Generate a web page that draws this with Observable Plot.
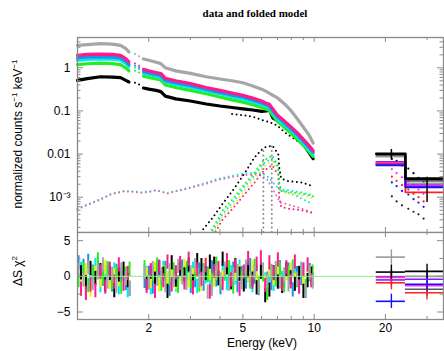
<!DOCTYPE html>
<html><head><meta charset="utf-8">
<script src="https://cdn.jsdelivr.net/npm/d3@7"></script>
<script src="https://cdn.jsdelivr.net/npm/@observablehq/plot@0.6"></script>
<style>
body{margin:0;background:#fff;}
#wrap{position:relative;width:444px;height:351px;overflow:hidden;font-family:"Liberation Sans",Arial,sans-serif;color:#000;}
#title{position:absolute;left:0;width:510px;top:7px;text-align:center;font:bold 11px "Liberation Serif","Times New Roman",serif;}
.rot{position:absolute;width:220px;height:14px;line-height:14px;text-align:center;font-size:12px;transform:rotate(-90deg);white-space:nowrap;}
.rot sup{font-size:8px;vertical-align:5px;line-height:0;}
#xl{position:absolute;left:162px;width:200px;top:336px;height:14px;line-height:14px;text-align:center;font-size:12px;}
#top{position:absolute;left:0;top:0;}
#bot{position:absolute;left:0;top:231px;}
</style></head>
<body>
<div id="wrap">
  <div id="title">data and folded model</div>
  <div id="top"></div>
  <div id="bot"></div>
  <div class="rot" style="left:-92px;top:127px;">normalized counts s<sup>−1</sup> keV<sup>−1</sup></div>
  <div class="rot" style="left:-92px;top:264px;">ΔS χ<sup>2</sup></div>
  <div id="xl">Energy (keV)</div>
</div>
<script>
// ---------- low-energy spectra (keV, counts/s/keV); null = gap ----------
const loE = [1.0, 1.1, 1.25, 1.4, 1.52, 1.6, 1.65, null,
  1.9, 2.0, 2.15, 2.25, 2.35, 2.6, 3.0, 3.5, 4.0, 4.5, 5.0, 5.5, 6.0, 6.3, 6.45, 6.7, 7.0, 7.5, 8.0, 8.5, 9.0, 9.5, 9.9];
const grayLo  = [3.3, 3.45, 3.65, 3.55, 3.3, 2.8, 2.35, null,
  1.6, 1.5, 1.35, 1.25, 1.0, 0.85, 0.74, 0.62, 0.55, 0.5, 0.45, 0.38, 0.32, 0.28, 0.26, 0.23, 0.2, 0.145, 0.1, 0.065, 0.042, 0.028, 0.018];
const pinkLo  = [1.95, 2.05, 2.08, 2.05, 1.95, 1.64, 1.38, null,
  0.92, 0.85, 0.78, 0.74, 0.57, 0.5, 0.43, 0.35, 0.3, 0.26, 0.23, 0.2, 0.17, 0.15, 0.145, 0.11, 0.08, 0.058, 0.042, 0.031, 0.022, 0.016, 0.012];
const blueLo  = [1.7, 1.78, 1.82, 1.78, 1.7, 1.43, 1.2, null,
  0.82, 0.76, 0.7, 0.66, 0.51, 0.45, 0.39, 0.32, 0.27, 0.235, 0.21, 0.18, 0.155, 0.138, 0.132, 0.1, 0.073, 0.053, 0.038, 0.028, 0.02, 0.0145, 0.011];
const cyanLo  = [1.5, 1.57, 1.61, 1.58, 1.5, 1.27, 1.07, null,
  0.75, 0.7, 0.64, 0.6, 0.47, 0.41, 0.355, 0.29, 0.25, 0.215, 0.19, 0.165, 0.14, 0.125, 0.12, 0.09, 0.066, 0.048, 0.035, 0.026, 0.018, 0.013, 0.01];
const greenLo = [1.18, 1.24, 1.28, 1.25, 1.18, 1.0, 0.85, null,
  0.64, 0.6, 0.55, 0.52, 0.4, 0.35, 0.3, 0.25, 0.21, 0.18, 0.16, 0.14, 0.12, 0.108, 0.104, 0.078, 0.057, 0.041, 0.03, 0.022, 0.016, 0.0115, 0.0088];
const blackLo = [0.51, 0.56, 0.62, 0.61, 0.59, 0.51, 0.47, null,
  0.34, 0.32, 0.3, 0.28, 0.22, 0.19, 0.17, 0.145, 0.13, 0.12, 0.112, 0.105, 0.098, 0.1, 0.11, 0.068, 0.06, 0.046, 0.032, 0.022, 0.017, 0.011, 0.0078];
// sparse points in the gap
const gapE = [1.75, 1.82];
const grayGap = [2.1, 1.85], pinkGap = [1.25, 1.12], blueGap = [1.12, 1.0], cyanGap = [1.0, 0.92], greenGap = [0.85, 0.78], blackGap = [0.45, 0.41];

// ---------- model components (dotted) ----------
const softE = [1.0, 1.1, 1.22, 1.38, 1.57, 1.75, 1.85, 2.0, 2.14, 2.4, 2.92, 3.55, 3.9, 4.6, 5.2, 5.8, 6.3, 6.8, 7.2, 8.0, 8.8, 9.6, 9.9];
const softA = [5.4e-4, 6.8e-4, 8.5e-4, 1.18e-3, 1.4e-3, 1.35e-3, 1.3e-3, 1.35e-3, 1.46e-3, 1.25e-3, 1.63e-3, 2.2e-3, 2.65e-3, 3.2e-3, 3.6e-3, 3.7e-3, 3.2e-3, 2.0e-3, 1.45e-3, 1.2e-3, 9.5e-4, 7.5e-4, 7e-4];
const softB = [5.2e-4, 6.6e-4, 8.3e-4, 1.15e-3, 1.37e-3, 1.32e-3, 1.27e-3, 1.32e-3, 1.43e-3, 1.22e-3, 1.58e-3, 2.1e-3, 2.5e-3, 3.0e-3, 3.3e-3, 3.4e-3, 2.7e-3, 1.3e-3, 7.5e-4, 6.5e-4, 5.5e-4, 4.6e-4, 4.3e-4];
const broadE = [3.4, 3.75, 4.1, 4.6, 5.1, 5.6, 6.1, 6.65, 7.05, 7.12, 7.25, 7.7, 8.8, 9.6, 9.9];
const broadBlack  = [1.8e-4, 3.5e-4, 7e-4, 1.6e-3, 3.7e-3, 8.4e-3, 0.0139, 0.0158, 0.0101, 4.9e-3, 2.7e-3, 2.4e-3, 2.2e-3, 1.9e-3, 1.8e-3];
const broadGreen  = [1e-4, 2e-4, 4.9e-4, 1.0e-3, 2.1e-3, 3.7e-3, 7e-3, 9.3e-3, 5.4e-3, 2.2e-3, 1.4e-3, 1.35e-3, 1.2e-3, 1.1e-3, 1.05e-3];
const broadCyan   = [1e-4, 1.7e-4, 4e-4, 8.5e-4, 1.8e-3, 3.2e-3, 6e-3, 8e-3, 4.8e-3, 2e-3, 1.5e-3, 1.45e-3, 1.3e-3, 1.15e-3, 1.1e-3];
const broadYellow = [9e-5, 1.5e-4, 3.5e-4, 7e-4, 1.5e-3, 2.8e-3, 5e-3, 6.8e-3, 4e-3, 1.8e-3, 1.3e-3, 1.25e-3, 1.1e-3, 1.0e-3, 9.5e-4];
const broadPink   = [8e-5, 1.3e-4, 3e-4, 6e-4, 1.2e-3, 2.2e-3, 4e-3, 5.5e-3, 3.3e-3, 1.0e-3, 6e-4, 5.5e-4, 5e-4, 4.5e-4, 4.3e-4];
const contE = [4.5, 5.0, 5.5, 6.0, 6.5, 7.0, 7.5, 8.0, 8.5, 9.0, 9.5, 9.9];
const contBlack = [0.085, 0.08, 0.073, 0.062, 0.055, 0.045, 0.032, 0.025, 0.02, 0.017, 0.014, 0.012];
const lineE = [6.1, 6.62];
const linePeak = [0.0125, 0.016];

// ---------- hard X-ray bins ----------
const pinEdges = [18.3, 24.3, 40];
const pinCenter = [21.2, 30.0];
const pinNames  = ["gray", "darkgray", "purple", "magenta", "red", "blue", "black"];
const pinTop = {
  gray:     [0.0087, 0.0021],
  darkgray: [0.0095, 0.0024],
  purple:   [0.0066, 0.0019],
  magenta:  [0.0062, 0.0018],
  red:      [0.0059, 0.0013],
  blue:     [0.0055, 0.0017],
  black:    [0.0102, 0.0027]
};
const pinRes = {
  gray:     [2.7, 0.0],
  darkgray: [-0.05, -1.8],
  purple:   [-0.5, -0.4],
  magenta:  [-0.15, -1.3],
  red:      [-0.9, -2.3],
  blue:     [-3.5, -1.1],
  black:    [0.6, 0.7]
};
const pinBlackLo = [0.0074, 0.00075], pinBlackHi = [0.0128, 0.0029];
const pinModE = [21.3, 22.3, 23.5, 25.0, 26.3, 27.6, 29.0];
const pinModBlack = [7.7e-3, 7.0e-3, 5.4e-3, 4.6e-3, 3.6e-3, 2.8e-3, 2.3e-3];
const pinModMag   = [4.5e-3, 3.6e-3, 2.9e-3, 2.3e-3, 1.9e-3, 1.5e-3, 1.2e-3];
const pinModRed   = [3.0e-3, 2.4e-3, 1.9e-3, 1.5e-3, 1.2e-3, 1.0e-3, 8e-4];
const pinModBlue  = [2.2e-3, 1.8e-3, 1.4e-3, 1.15e-3, 9e-4, 7.5e-4, 6e-4];
const pinModLow   = [1.05e-3, 8e-4, 6.5e-4, 5.4e-4, 4.6e-4, 4e-4, 3.2e-4];

// ---------- residuals (ΔS χ²) ----------
const resGridA = [1.01, 1.06, 1.11, 1.16, 1.22, 1.28, 1.34, 1.40, 1.46, 1.53, 1.60, 1.66,
  1.92, 2.00, 2.08, 2.17, 2.26, 2.35, 2.45, 2.55, 2.66, 2.77, 2.89, 3.01, 3.14, 3.27, 3.41, 3.55, 3.70, 3.86, 4.02, 4.19,
  4.37, 4.55, 4.74, 4.94, 5.15, 5.37, 5.60, 5.83, 6.08, 6.34, 6.60, 6.88, 7.17, 7.47, 7.79, 8.12, 8.46, 8.82, 9.19, 9.58, 9.85];
const resGridB = [1.035, 1.085, 1.135, 1.19, 1.25, 1.31, 1.37, 1.43, 1.495, 1.565, 1.63,
  1.96, 2.04, 2.125, 2.215, 2.305, 2.40, 2.50, 2.605, 2.715, 2.83, 2.95, 3.075, 3.205, 3.34, 3.48, 3.625, 3.78, 3.94, 4.105,
  4.28, 4.46, 4.645, 4.84, 5.045, 5.26, 5.485, 5.715, 5.955, 6.21, 6.47, 6.74, 7.025, 7.32, 7.63, 7.955, 8.29, 8.64, 9.005, 9.385, 9.72];
const resGray  = [0.8, -0.5, 1.2, -1.0, 0.5, 1.6, -0.8, 0.3, -1.4, 0.9, -0.3, -1.6,
  0.6, -0.9, 1.1, -0.4, 0.2, -1.3, 0.8, -0.6, 1.4, -0.2, -1.0, 0.5, 1.5, -0.7, 0.3, -2.2, -1.8, 0.4, -0.5, 1.0, -1.1, 0.2, 0.7, -0.9, 1.3, -0.3, 0.6, -1.5, 0.9, -0.6, 0.4, 1.1, -0.8, 0.2, -1.2, 0.8, -0.4, 1.0, -2.0, 0.5, -0.8];
const resBlue  = [1.9, 1.4, 2.1, 0.6, 1.2, -0.4, 0.9, -1.2, 0.7, 0.2, -1.0, -1.8,
  -0.7, 0.4, -1.5, 0.8, -0.3, 1.1, -1.8, 0.2, -0.9, 1.3, 0.5, -1.4, -0.6, 0.9, -1.1, 0.3, 1.2, -0.5, -1.6, 0.6, -0.2, 1.0, -1.3, 0.4, -0.8, 1.5, -0.1, -1.7, 0.7, -0.4, -1.0, 0.3, 1.2, -0.6, 0.9, -1.9, 0.4, -0.3, -2.1, 0.8, -0.5];
const resGreen = [-0.6, 0.9, -1.3, 0.4, 2.3, -0.2, 1.1, -0.9, 0.5, -1.5, 0.3, 1.0,
  1.2, -0.8, 0.3, 1.6, -1.1, 0.5, -0.3, 0.9, -1.4, 0.2, 1.1, -0.7, 0.4, -1.2, 0.8, 0.1, -0.6, 1.7, -0.9, 0.3, 1.2, -1.5, 0.6, -0.2, 0.9, -0.8, 1.4, -1.1, 0.2, -2.4, 0.7, -0.5, 1.0, -1.3, 0.4, 1.3, -0.6, 0.8, -1.4, 0.2, 0.6];
const resPink  = [-1.8, -2.4, -1.2, -2.0, 0.6, -1.5, 1.0, -0.8, 1.6, -1.1, 0.4,
  -1.4, 0.8, -2.1, 1.3, -0.6, 2.0, -1.2, 0.5, 1.8, -0.9, 2.4, -1.6, 0.9, -0.4, 1.5, -2.2, 0.7, 1.1, -1.0, 2.2, -0.5, 1.4, -1.8, 0.6, 2.5, -0.8, 1.7, 2.6, -1.3, 1.9, 0.4, 2.3, -1.1, 1.2, -0.7, 2.0, -1.5, 0.9, 1.6, -0.6];
const resBlack = [0.5, -0.9, 1.1, -0.3, 0.8, -1.2, 0.4, -2.0, 0.2, 1.0, -0.6,
  -1.0, 0.6, -0.4, 1.2, 0.3, -2.1, 1.9, -0.5, 1.0, 0.2, 1.6, -0.8, 2.2, 1.5, 0.4, 2.0, 1.7, -0.3, 2.4, 1.2, -0.9, 1.5, 0.3, -1.2, 0.8, -0.4, -1.6, 0.6, -2.7, -1.9, 0.5, -0.8, -1.4, 0.9, -0.2, -1.1, 0.4, -2.1, -0.6, 0.3];
const resCyan  = [1.0, 0.2, -0.7, 1.5, -1.3, 0.6, -0.2, 0.9, -1.6, 0.3, -2.0,
  0.4, -1.6, 0.9, -0.3, 1.1, -0.8, 0.2, -1.2, 0.7, -0.5, 0.3, 1.0, -1.4, 0.6, -0.1, -0.9, 0.8, -0.4, 1.2, -1.0, 0.5, -0.2, 1.3, -0.7, 0.1, -1.3, 0.6, 0.9, -0.5, 0.2, -1.1, 0.7, -0.3, 1.0, -0.8, 0.4, -1.5, 0.8, 0.1, -0.4];
const resYellow = [-0.3, 0.8, -1.9, 0.4, -0.6, 1.2, -0.9, 0.1, -0.4, 0.7, -0.2,
  0.2, -0.7, 1.0, -1.2, 0.5, -0.3, 0.8, -0.9, 0.3, 1.4, -0.6, 0.1, 0.9, -1.1, 1.6, 0.4, -0.5, 0.7, -0.2, 1.1, -0.8, 0.3, 0.6, -1.0, 0.2, 1.2, -0.4, 0.5, -0.9, 1.0, -0.3, 0.7, -1.2, 0.4, 0.9, -0.6, 0.2, -0.7, 0.5, -0.1];

// ---------- axes ----------
const xTicksMajor = [2, 5, 10, 20];
const xTicksMinor = [3, 4, 6, 7, 8, 9, 30];
const xLabels = [2, 5, 10, 20];
const yTopLabels = [1, 0.1, 0.01, 0.001];
const yTopFmt = d => d === 0.001 ? "10⁻³" : String(d);
const yBotLabels = [-5, 0, 5];
const yBotMinor = [-2.5, 2.5];

// ---------- colours / style ----------
const C = {gray:"#a6a6a6", pink:"#ff1a8c", blue:"#1f8fe8", cyan:"#00e8f0", green:"#22ee22", yellow:"#f0f000", black:"#000000",
  darkgray:"#5a5a5a", purple:"#8a1aff", magenta:"#ff2cff", red:"#ff2020", pblue:"#1010ff"};
const pinColor = {gray:"#9a9a9a", darkgray:"#5a5a5a", purple:C.purple, magenta:C.magenta, red:C.red, blue:C.pblue, black:"#000"};
const frameC = "#8a8a8a";
const W = 444, ML = 77, MR = 1;
const xDomain = [1, 35.2];
const yTopDomain = [1.52e-4, 5.04];
const topH = 233, topMT = 37, topMB = 1;
const botH = 120, botMT = 1, botMB = 32;
const topIH = topH - topMT - topMB, botIH = botH - botMT - botMB, IW = W - ML - MR;
const yTopMinor = [1e-4, 1e-3, 1e-2, 1e-1, 1].flatMap(d => [2,3,4,5,6,7,8,9].map(k => k * d))
  .filter(v => v > yTopDomain[0] && v < yTopDomain[1]);

const rows = (xs, ys) => xs.map((x, i) => ({x, y: ys[i]}));
const dotted = {strokeDasharray: "0,4.5", strokeLinecap: "round", strokeWidth: 2};

function frameTicks(ih, yMajor, yMinor) {
  const m = [];
  const lenMaj = 5, lenMin = 3;
  for (const [arr, L] of [[xTicksMajor, lenMaj], [xTicksMinor, lenMin]]) {
    m.push(Plot.tickX(arr, {x: d => d, insetBottom: ih - L, stroke: frameC}));
    m.push(Plot.tickX(arr, {x: d => d, insetTop: ih - L, stroke: frameC}));
  }
  for (const [arr, L] of [[yMajor, 6], [yMinor, 3.5]]) {
    m.push(Plot.tickY(arr, {y: d => d, insetRight: IW - L, stroke: frameC}));
    m.push(Plot.tickY(arr, {y: d => d, insetLeft: IW - L, stroke: frameC}));
  }
  return m;
}

// ---------- top panel ----------
const loSeries = [
  ["black", blackLo, blackGap], ["green", greenLo, greenGap], ["cyan", cyanLo, cyanGap],
  ["blue", blueLo, blueGap], ["pink", pinkLo, pinkGap], ["gray", grayLo, grayGap]
];
const topMarks = [];
topMarks.push(Plot.line(rows(softE, softA), {x: "x", y: "y", stroke: C.cyan, ...dotted}));
topMarks.push(Plot.line(rows(softE, softB), {x: "x", y: "y", stroke: "#e86aa8", ...dotted}));
for (const [arr, col] of [[broadPink, C.pink], [broadYellow, C.yellow], [broadCyan, C.cyan], [broadGreen, C.green], [broadBlack, "#000"]]) {
  topMarks.push(Plot.line(rows(broadE, arr), {x: "x", y: "y", stroke: col, clip: true, ...dotted}));
}
topMarks.push(Plot.line(rows(contE, contBlack), {x: "x", y: "y", stroke: "#000", ...dotted}));
topMarks.push(Plot.ruleX(rows(lineE, linePeak), {x: "x", y1: () => yTopDomain[0], y2: "y", stroke: "#888", ...dotted}));
for (const [name, vals, gap] of loSeries) {
  topMarks.push(Plot.line(rows(loE, vals), {x: "x", y: "y", stroke: C[name], strokeWidth: 3.2}));
  topMarks.push(Plot.dot(rows(gapE, gap), {x: "x", y: "y", r: 1, fill: C[name], stroke: "none"}));
}
for (const [arr, col] of [[pinModLow, "#222"], [pinModBlue, C.pblue], [pinModRed, C.red], [pinModMag, C.magenta], [pinModBlack, "#000"]]) {
  topMarks.push(Plot.dot(rows(pinModE, arr), {x: "x", y: "y", r: 1.1, fill: col, stroke: "none"}));
}
for (const n of pinNames) {
  const v = pinTop[n];
  const pts = [{x: pinEdges[0], y: v[0]}, {x: pinEdges[1], y: v[0]}, {x: pinEdges[1], y: v[1]}, {x: pinEdges[2], y: v[1]}];
  topMarks.push(Plot.line(pts, {x: "x", y: "y", stroke: pinColor[n], strokeWidth: n === "black" ? 2.6 : 1.8, clip: true}));
}
topMarks.push(Plot.ruleX(pinCenter.map((x, i) => ({x, lo: pinBlackLo[i], hi: pinBlackHi[i]})), {x: "x", y1: "lo", y2: "hi", stroke: "#000", strokeWidth: 1.5}));
topMarks.push(...frameTicks(topIH, yTopLabels, yTopMinor));
topMarks.push(Plot.frame({stroke: frameC, strokeWidth: 1.3}));
topMarks.push(Plot.axisY({ticks: yTopLabels, tickFormat: yTopFmt, tickSize: 0, tickPadding: 7, fontSize: 12, label: null}));

const topPlot = Plot.plot({
  width: W, height: topH, marginTop: topMT, marginBottom: topMB, marginLeft: ML, marginRight: MR,
  style: {fontFamily: "Liberation Sans, Arial, sans-serif", fontSize: "12px", background: "transparent"},
  x: {type: "log", domain: xDomain, axis: null},
  y: {type: "log", domain: yTopDomain, axis: null},
  marks: topMarks
});
document.getElementById("top").appendChild(topPlot);

// ---------- bottom panel ----------
const resSeries = [
  [resGridA, resBlue, C.blue], [resGridA, resGreen, C.green], [resGridB, resCyan, C.cyan],
  [resGridB, resYellow, C.yellow], [resGridB, resBlack, "#000"], [resGridB, resPink, C.pink], [resGridA, resGray, C.gray]
];
const botMarks = [];
for (const [g, r, col] of resSeries) {
  const d = g.map((x, i) => ({x, r: r[i]})).filter(e => e.r != null);
  botMarks.push(Plot.ruleX(d, {x: "x", y1: e => e.r - 1, y2: e => e.r + 1, stroke: col, strokeWidth: 2}));
}
botMarks.push(Plot.ruleY([0], {stroke: "#86f086", strokeWidth: 1}));
for (const n of pinNames) {
  const v = pinRes[n];
  const segs = [0, 1].map(i => ({x1: pinEdges[i], x2: pinEdges[i + 1], y: v[i], xc: pinCenter[i]}));
  botMarks.push(Plot.ruleY(segs, {y: "y", x1: "x1", x2: "x2", stroke: pinColor[n], strokeWidth: 1.6, clip: true}));
  botMarks.push(Plot.ruleX(segs, {x: "xc", y1: e => e.y - 1, y2: e => e.y + 1, stroke: pinColor[n], strokeWidth: 1.4}));
}
botMarks.push(...frameTicks(botIH, yBotLabels, yBotMinor));
botMarks.push(Plot.frame({stroke: frameC, strokeWidth: 1.3}));
botMarks.push(Plot.axisY({ticks: yBotLabels, tickFormat: d => d < 0 ? "−" + Math.abs(d) : String(d), tickSize: 0, tickPadding: 7, fontSize: 12, label: null}));
botMarks.push(Plot.axisX({ticks: xLabels, tickFormat: d => String(d), tickSize: 0, tickPadding: 4, fontSize: 12, label: null}));

const botPlot = Plot.plot({
  width: W, height: botH, marginTop: botMT, marginBottom: botMB, marginLeft: ML, marginRight: MR,
  style: {fontFamily: "Liberation Sans, Arial, sans-serif", fontSize: "12px", background: "transparent"},
  x: {type: "log", domain: xDomain, axis: null},
  y: {domain: [-6.05, 6.15], axis: null},
  marks: botMarks
});
document.getElementById("bot").appendChild(botPlot);
</script>
</body></html>
